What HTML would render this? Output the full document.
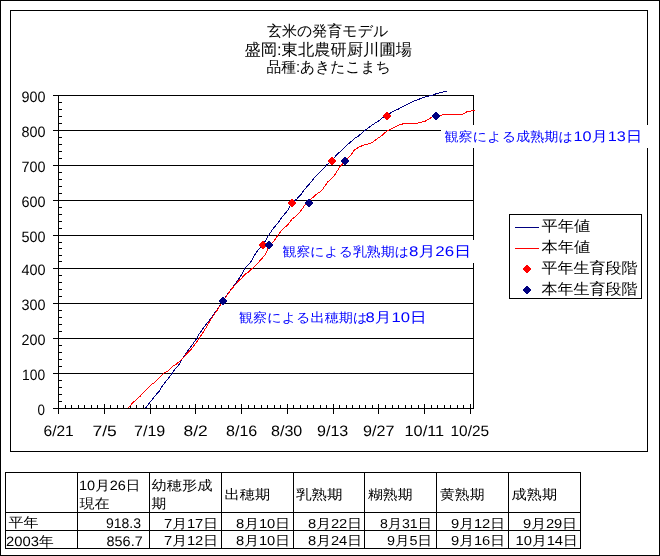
<!DOCTYPE html>
<html lang="ja"><head><meta charset="utf-8"><style>
html,body{margin:0;padding:0;background:#fff;}
body{width:660px;height:556px;overflow:hidden;position:relative;}
svg{position:absolute;left:0;top:0;will-change:transform;}
text{font-family:"Liberation Sans",sans-serif;text-rendering:geometricPrecision;}
</style></head><body>
<svg width="660" height="556" viewBox="0 0 660 556" shape-rendering="crispEdges">
<rect x="0.5" y="0.5" width="659" height="555" fill="none" stroke="#000"/>
<rect x="10.5" y="10.5" width="637" height="441" fill="none" stroke="#000"/>
<line x1="53" y1="95.5" x2="474" y2="95.5" stroke="#000"/>
<line x1="53" y1="130.5" x2="474" y2="130.5" stroke="#000"/>
<line x1="53" y1="165.5" x2="474" y2="165.5" stroke="#000"/>
<line x1="53" y1="200.5" x2="474" y2="200.5" stroke="#000"/>
<line x1="53" y1="235.5" x2="474" y2="235.5" stroke="#000"/>
<line x1="53" y1="268.5" x2="474" y2="268.5" stroke="#000"/>
<line x1="53" y1="303.5" x2="474" y2="303.5" stroke="#000"/>
<line x1="53" y1="338.5" x2="474" y2="338.5" stroke="#000"/>
<line x1="53" y1="373.5" x2="474" y2="373.5" stroke="#000"/>
<line x1="53" y1="408.5" x2="474" y2="408.5" stroke="#000"/>
<line x1="473.5" y1="95" x2="473.5" y2="409" stroke="#000"/>
<line x1="58.5" y1="95" x2="58.5" y2="414" stroke="#000"/>
<line x1="59" y1="102.5" x2="62" y2="102.5" stroke="#000"/>
<line x1="59" y1="109.5" x2="62" y2="109.5" stroke="#000"/>
<line x1="59" y1="116.5" x2="62" y2="116.5" stroke="#000"/>
<line x1="59" y1="123.5" x2="62" y2="123.5" stroke="#000"/>
<line x1="59" y1="137.5" x2="62" y2="137.5" stroke="#000"/>
<line x1="59" y1="144.5" x2="62" y2="144.5" stroke="#000"/>
<line x1="59" y1="151.5" x2="62" y2="151.5" stroke="#000"/>
<line x1="59" y1="158.5" x2="62" y2="158.5" stroke="#000"/>
<line x1="59" y1="172.5" x2="62" y2="172.5" stroke="#000"/>
<line x1="59" y1="179.5" x2="62" y2="179.5" stroke="#000"/>
<line x1="59" y1="186.5" x2="62" y2="186.5" stroke="#000"/>
<line x1="59" y1="193.5" x2="62" y2="193.5" stroke="#000"/>
<line x1="59" y1="207.5" x2="62" y2="207.5" stroke="#000"/>
<line x1="59" y1="214.5" x2="62" y2="214.5" stroke="#000"/>
<line x1="59" y1="221.5" x2="62" y2="221.5" stroke="#000"/>
<line x1="59" y1="228.5" x2="62" y2="228.5" stroke="#000"/>
<line x1="59" y1="242.5" x2="62" y2="242.5" stroke="#000"/>
<line x1="59" y1="248.5" x2="62" y2="248.5" stroke="#000"/>
<line x1="59" y1="255.5" x2="62" y2="255.5" stroke="#000"/>
<line x1="59" y1="261.5" x2="62" y2="261.5" stroke="#000"/>
<line x1="59" y1="275.5" x2="62" y2="275.5" stroke="#000"/>
<line x1="59" y1="282.5" x2="62" y2="282.5" stroke="#000"/>
<line x1="59" y1="289.5" x2="62" y2="289.5" stroke="#000"/>
<line x1="59" y1="296.5" x2="62" y2="296.5" stroke="#000"/>
<line x1="59" y1="310.5" x2="62" y2="310.5" stroke="#000"/>
<line x1="59" y1="317.5" x2="62" y2="317.5" stroke="#000"/>
<line x1="59" y1="324.5" x2="62" y2="324.5" stroke="#000"/>
<line x1="59" y1="331.5" x2="62" y2="331.5" stroke="#000"/>
<line x1="59" y1="345.5" x2="62" y2="345.5" stroke="#000"/>
<line x1="59" y1="352.5" x2="62" y2="352.5" stroke="#000"/>
<line x1="59" y1="359.5" x2="62" y2="359.5" stroke="#000"/>
<line x1="59" y1="366.5" x2="62" y2="366.5" stroke="#000"/>
<line x1="59" y1="380.5" x2="62" y2="380.5" stroke="#000"/>
<line x1="59" y1="387.5" x2="62" y2="387.5" stroke="#000"/>
<line x1="59" y1="394.5" x2="62" y2="394.5" stroke="#000"/>
<line x1="59" y1="401.5" x2="62" y2="401.5" stroke="#000"/>
<line x1="58.5" y1="404" x2="58.5" y2="414" stroke="#000"/>
<line x1="65.5" y1="405" x2="65.5" y2="408" stroke="#000"/>
<line x1="71.5" y1="405" x2="71.5" y2="408" stroke="#000"/>
<line x1="78.5" y1="405" x2="78.5" y2="408" stroke="#000"/>
<line x1="84.5" y1="405" x2="84.5" y2="408" stroke="#000"/>
<line x1="91.5" y1="405" x2="91.5" y2="408" stroke="#000"/>
<line x1="97.5" y1="405" x2="97.5" y2="408" stroke="#000"/>
<line x1="104.5" y1="404" x2="104.5" y2="414" stroke="#000"/>
<line x1="110.5" y1="405" x2="110.5" y2="408" stroke="#000"/>
<line x1="117.5" y1="405" x2="117.5" y2="408" stroke="#000"/>
<line x1="123.5" y1="405" x2="123.5" y2="408" stroke="#000"/>
<line x1="130.5" y1="405" x2="130.5" y2="408" stroke="#000"/>
<line x1="136.5" y1="405" x2="136.5" y2="408" stroke="#000"/>
<line x1="143.5" y1="405" x2="143.5" y2="408" stroke="#000"/>
<line x1="150.5" y1="404" x2="150.5" y2="414" stroke="#000"/>
<line x1="156.5" y1="405" x2="156.5" y2="408" stroke="#000"/>
<line x1="163.5" y1="405" x2="163.5" y2="408" stroke="#000"/>
<line x1="169.5" y1="405" x2="169.5" y2="408" stroke="#000"/>
<line x1="176.5" y1="405" x2="176.5" y2="408" stroke="#000"/>
<line x1="182.5" y1="405" x2="182.5" y2="408" stroke="#000"/>
<line x1="189.5" y1="405" x2="189.5" y2="408" stroke="#000"/>
<line x1="195.5" y1="404" x2="195.5" y2="414" stroke="#000"/>
<line x1="202.5" y1="405" x2="202.5" y2="408" stroke="#000"/>
<line x1="208.5" y1="405" x2="208.5" y2="408" stroke="#000"/>
<line x1="215.5" y1="405" x2="215.5" y2="408" stroke="#000"/>
<line x1="221.5" y1="405" x2="221.5" y2="408" stroke="#000"/>
<line x1="228.5" y1="405" x2="228.5" y2="408" stroke="#000"/>
<line x1="235.5" y1="405" x2="235.5" y2="408" stroke="#000"/>
<line x1="241.5" y1="404" x2="241.5" y2="414" stroke="#000"/>
<line x1="248.5" y1="405" x2="248.5" y2="408" stroke="#000"/>
<line x1="254.5" y1="405" x2="254.5" y2="408" stroke="#000"/>
<line x1="261.5" y1="405" x2="261.5" y2="408" stroke="#000"/>
<line x1="267.5" y1="405" x2="267.5" y2="408" stroke="#000"/>
<line x1="274.5" y1="405" x2="274.5" y2="408" stroke="#000"/>
<line x1="280.5" y1="405" x2="280.5" y2="408" stroke="#000"/>
<line x1="287.5" y1="404" x2="287.5" y2="414" stroke="#000"/>
<line x1="293.5" y1="405" x2="293.5" y2="408" stroke="#000"/>
<line x1="300.5" y1="405" x2="300.5" y2="408" stroke="#000"/>
<line x1="307.5" y1="405" x2="307.5" y2="408" stroke="#000"/>
<line x1="313.5" y1="405" x2="313.5" y2="408" stroke="#000"/>
<line x1="320.5" y1="405" x2="320.5" y2="408" stroke="#000"/>
<line x1="326.5" y1="405" x2="326.5" y2="408" stroke="#000"/>
<line x1="333.5" y1="404" x2="333.5" y2="414" stroke="#000"/>
<line x1="339.5" y1="405" x2="339.5" y2="408" stroke="#000"/>
<line x1="346.5" y1="405" x2="346.5" y2="408" stroke="#000"/>
<line x1="352.5" y1="405" x2="352.5" y2="408" stroke="#000"/>
<line x1="359.5" y1="405" x2="359.5" y2="408" stroke="#000"/>
<line x1="365.5" y1="405" x2="365.5" y2="408" stroke="#000"/>
<line x1="372.5" y1="405" x2="372.5" y2="408" stroke="#000"/>
<line x1="378.5" y1="404" x2="378.5" y2="414" stroke="#000"/>
<line x1="385.5" y1="405" x2="385.5" y2="408" stroke="#000"/>
<line x1="392.5" y1="405" x2="392.5" y2="408" stroke="#000"/>
<line x1="398.5" y1="405" x2="398.5" y2="408" stroke="#000"/>
<line x1="405.5" y1="405" x2="405.5" y2="408" stroke="#000"/>
<line x1="411.5" y1="405" x2="411.5" y2="408" stroke="#000"/>
<line x1="418.5" y1="405" x2="418.5" y2="408" stroke="#000"/>
<line x1="424.5" y1="404" x2="424.5" y2="414" stroke="#000"/>
<line x1="431.5" y1="405" x2="431.5" y2="408" stroke="#000"/>
<line x1="437.5" y1="405" x2="437.5" y2="408" stroke="#000"/>
<line x1="444.5" y1="405" x2="444.5" y2="408" stroke="#000"/>
<line x1="450.5" y1="405" x2="450.5" y2="408" stroke="#000"/>
<line x1="457.5" y1="405" x2="457.5" y2="408" stroke="#000"/>
<line x1="463.5" y1="405" x2="463.5" y2="408" stroke="#000"/>
<line x1="470.5" y1="404" x2="470.5" y2="414" stroke="#000"/>
<path d="M145.0,408.0 L145.8,407.7 L149.9,402.3 L156.2,394.6 L159.3,391.0 L162.5,385.6 L166.5,380.7 L169.7,376.6 L172.4,373.0 L173.7,370.8 L179.6,364.0 L182.2,359.0 L186.7,352.3 L193.0,343.7 L196.6,338.8 L199.3,333.8 L206.0,324.4 L211.9,317.2 L216.8,310.0 L223.0,301.0 L228.5,292.8 L232.1,288.3 L237.9,280.2 L242.0,273.9 L245.1,268.0 L251.0,261.7 L254.6,255.0 L258.6,249.5 L263.0,245.0 L268.5,235.5 L273.0,228.8 L278.4,222.5 L282.0,217.1 L287.4,210.8 L292.0,203.0 L296.3,199.5 L301.7,193.6 L304.4,189.6 L311.6,181.5 L314.7,177.4 L320.6,171.6 L326.9,164.8 L332.0,160.5 L336.8,154.5 L342.2,150.0 L347.6,144.6 L354.8,138.3 L357.5,136.9 L364.7,130.6 L371.9,125.2 L378.2,121.2 L383.6,116.9 L387.0,115.6 L392.6,111.5 L398.9,108.8 L402.5,106.6 L409.7,103.0 L416.0,100.3 L423.2,97.6 L430.0,95.8 L433.3,94.8 L437.5,93.3 L441.7,92.3 L447.0,91.2" fill="none" stroke="#000080" stroke-width="1"/>
<path d="M128.0,408.0 L133.0,402.6 L140.0,396.4 L144.5,391.5 L151.7,384.3 L154.4,382.9 L159.3,377.5 L163.8,373.0 L167.0,371.7 L172.8,366.3 L176.0,364.5 L181.0,360.0 L192.1,348.2 L198.4,339.7 L206.5,327.0 L209.5,321.5 L217.3,310.0 L223.0,301.0 L224.9,298.2 L231.2,289.6 L238.4,281.1 L241.1,278.8 L245.1,274.3 L248.3,272.1 L252.8,268.0 L259.1,261.7 L265.0,255.0 L267.6,249.5 L269.0,245.0 L273.0,242.3 L278.4,234.6 L282.0,229.7 L287.4,225.2 L291.9,219.3 L295.5,216.6 L300.9,210.8 L305.0,204.9 L309.0,203.0 L310.7,199.5 L316.1,194.5 L321.5,190.9 L324.6,186.4 L327.8,181.9 L334.1,176.1 L336.8,171.6 L340.0,166.6 L345.0,161.0 L351.2,155.0 L353.9,150.4 L359.3,146.8 L365.6,144.6 L371.9,142.8 L377.3,138.7 L381.8,135.6 L385.0,132.4 L389.9,129.5 L399.8,124.6 L406.1,123.2 L416.9,123.2 L425.0,121.3 L430.0,118.3 L432.5,116.7 L436.0,116.0 L440.0,115.8 L444.2,114.3 L462.5,114.3 L467.5,111.5 L474.6,110.4" fill="none" stroke="#ff0000" stroke-width="1"/>
<path d="M223.0,296.5 L227.5,301.0 L223.0,305.5 L218.5,301.0 Z" fill="#ff0000"/>
<path d="M263.0,240.5 L267.5,245.0 L263.0,249.5 L258.5,245.0 Z" fill="#ff0000"/>
<path d="M292.0,198.5 L296.5,203.0 L292.0,207.5 L287.5,203.0 Z" fill="#ff0000"/>
<path d="M332.0,156.5 L336.5,161.0 L332.0,165.5 L327.5,161.0 Z" fill="#ff0000"/>
<path d="M387.0,111.5 L391.5,116.0 L387.0,120.5 L382.5,116.0 Z" fill="#ff0000"/>
<path d="M223.0,296.5 L227.5,301.0 L223.0,305.5 L218.5,301.0 Z" fill="#000080"/>
<path d="M269.0,240.5 L273.5,245.0 L269.0,249.5 L264.5,245.0 Z" fill="#000080"/>
<path d="M309.0,198.5 L313.5,203.0 L309.0,207.5 L304.5,203.0 Z" fill="#000080"/>
<path d="M345.0,156.5 L349.5,161.0 L345.0,165.5 L340.5,161.0 Z" fill="#000080"/>
<path d="M436.0,111.5 L440.5,116.0 L436.0,120.5 L431.5,116.0 Z" fill="#000080"/>
<rect x="441" y="125" width="208" height="23" fill="#fff"/>
<rect x="279" y="240" width="196" height="23" fill="#fff"/>
<rect x="509.5" y="214.5" width="132" height="84" fill="#fff" stroke="#000"/>
<line x1="515" y1="227.5" x2="539" y2="227.5" stroke="#000080"/>
<line x1="515" y1="248.5" x2="539" y2="248.5" stroke="#ff0000"/>
<path d="M527.0,264.5 L531.5,269.0 L527.0,273.5 L522.5,269.0 Z" fill="#ff0000"/>
<path d="M527.0,285.5 L531.5,290.0 L527.0,294.5 L522.5,290.0 Z" fill="#000080"/>
<line x1="5.5" y1="472" x2="5.5" y2="549" stroke="#000"/>
<line x1="77.5" y1="472" x2="77.5" y2="549" stroke="#000"/>
<line x1="149.5" y1="472" x2="149.5" y2="549" stroke="#000"/>
<line x1="221.5" y1="472" x2="221.5" y2="549" stroke="#000"/>
<line x1="293.5" y1="472" x2="293.5" y2="549" stroke="#000"/>
<line x1="364.5" y1="472" x2="364.5" y2="549" stroke="#000"/>
<line x1="436.5" y1="472" x2="436.5" y2="549" stroke="#000"/>
<line x1="508.5" y1="472" x2="508.5" y2="549" stroke="#000"/>
<line x1="580.5" y1="472" x2="580.5" y2="549" stroke="#000"/>
<line x1="5" y1="472.5" x2="581" y2="472.5" stroke="#000"/>
<line x1="5" y1="512.5" x2="581" y2="512.5" stroke="#000"/>
<line x1="5" y1="530.5" x2="581" y2="530.5" stroke="#000"/>
<line x1="5" y1="548.5" x2="581" y2="548.5" stroke="#000"/>
<text transform="translate(267.00,35.50) scale(1.0000,1)" font-size="15.00" fill="#000">玄米の発育モデル</text>
<text transform="translate(244.50,55.00) scale(1.0184,1)" font-size="16.00" fill="#000">盛岡:東北農研厨川圃場</text>
<text transform="translate(266.50,71.50) scale(0.9839,1)" font-size="15.00" fill="#000">品種:あきたこまち</text>
<text transform="translate(21.50,102.00) scale(0.9583,1)" font-size="15.00" fill="#000">900</text>
<text transform="translate(21.50,137.00) scale(0.9583,1)" font-size="15.00" fill="#000">800</text>
<text transform="translate(21.50,172.00) scale(0.9583,1)" font-size="15.00" fill="#000">700</text>
<text transform="translate(21.50,207.00) scale(0.9583,1)" font-size="15.00" fill="#000">600</text>
<text transform="translate(21.50,242.00) scale(0.9583,1)" font-size="15.00" fill="#000">500</text>
<text transform="translate(21.50,275.00) scale(0.9618,1)" font-size="15.00" fill="#000">400</text>
<text transform="translate(21.50,310.00) scale(0.9583,1)" font-size="15.00" fill="#000">300</text>
<text transform="translate(21.50,345.00) scale(0.9583,1)" font-size="15.00" fill="#000">200</text>
<text transform="translate(22.00,380.00) scale(0.9224,1)" font-size="15.00" fill="#000">100</text>
<text transform="translate(37.50,415.00) scale(0.8932,1)" font-size="15.00" fill="#000">0</text>
<text transform="translate(43.50,436.00) scale(1.0357,1)" font-size="15.00" fill="#000">6/21</text>
<text transform="translate(92.50,436.00) scale(1.1601,1)" font-size="15.00" fill="#000">7/5</text>
<text transform="translate(134.00,436.00) scale(1.0714,1)" font-size="15.00" fill="#000">7/19</text>
<text transform="translate(183.50,436.00) scale(1.1601,1)" font-size="15.00" fill="#000">8/2</text>
<text transform="translate(226.00,436.00) scale(1.0714,1)" font-size="15.00" fill="#000">8/16</text>
<text transform="translate(271.00,436.00) scale(1.0714,1)" font-size="15.00" fill="#000">8/30</text>
<text transform="translate(317.00,436.00) scale(1.0714,1)" font-size="15.00" fill="#000">9/13</text>
<text transform="translate(363.00,436.00) scale(1.0753,1)" font-size="15.00" fill="#000">9/27</text>
<text transform="translate(404.50,436.00) scale(1.0880,1)" font-size="15.00" fill="#000">10/11</text>
<text transform="translate(450.50,436.00) scale(1.0278,1)" font-size="15.00" fill="#000">10/25</text>
<text transform="translate(444.50,140.50) scale(1.0864,1)" font-size="13.00" fill="#0000ff">観察による成熟期は</text>
<text transform="translate(573.50,141.00) scale(1.1607,1)" font-size="14.00" fill="#0000ff">10月13日</text>
<text transform="translate(282.50,255.50) scale(1.0692,1)" font-size="13.00" fill="#0000ff">観察による乳熟期は</text>
<text transform="translate(409.00,256.00) scale(1.2083,1)" font-size="14.00" fill="#0000ff">8月26日</text>
<text transform="translate(239.00,321.50) scale(1.0857,1)" font-size="13.00" fill="#0000ff">観察による出穂期は</text>
<text transform="translate(365.50,322.00) scale(1.1886,1)" font-size="14.00" fill="#0000ff">8月10日</text>
<text transform="translate(541.50,230.50) scale(1.0909,1)" font-size="14.93" fill="#000">平年値</text>
<text transform="translate(541.50,251.50) scale(1.0909,1)" font-size="14.93" fill="#000">本年値</text>
<text transform="translate(541.50,272.50) scale(1.0674,1)" font-size="15.00" fill="#000">平年生育段階</text>
<text transform="translate(541.50,293.50) scale(1.0674,1)" font-size="15.00" fill="#000">本年生育段階</text>
<text transform="translate(79.00,489.50) scale(1.0741,1)" font-size="13.50" fill="#000">10月26日</text>
<text transform="translate(79.50,507.50) scale(1.1154,1)" font-size="13.50" fill="#000">現在</text>
<text transform="translate(151.50,489.50) scale(1.1299,1)" font-size="13.50" fill="#000">幼穂形成</text>
<text transform="translate(151.50,507.50) scale(1.0936,1)" font-size="13.50" fill="#000">期</text>
<text transform="translate(224.50,499.00) scale(1.1282,1)" font-size="13.50" fill="#000">出穂期</text>
<text transform="translate(296.00,499.00) scale(1.1506,1)" font-size="13.50" fill="#000">乳熟期</text>
<text transform="translate(368.00,499.00) scale(1.1000,1)" font-size="13.50" fill="#000">糊熟期</text>
<text transform="translate(440.00,498.50) scale(1.1000,1)" font-size="13.50" fill="#000">黄熟期</text>
<text transform="translate(511.50,499.00) scale(1.1256,1)" font-size="13.50" fill="#000">成熟期</text>
<text transform="translate(8.50,526.50) scale(1.1154,1)" font-size="13.50" fill="#000">平年</text>
<text transform="translate(6.00,545.50) scale(1.0952,1)" font-size="13.50" fill="#000">2003年</text>
<text transform="translate(106.00,528.00) scale(1.0000,1)" font-size="14.00" fill="#000">918.3</text>
<text transform="translate(106.50,546.00) scale(1.0330,1)" font-size="14.00" fill="#000">856.7</text>
<text transform="translate(164.00,527.50) scale(1.1333,1)" font-size="13.00" fill="#000">7月17日</text>
<text transform="translate(236.00,527.50) scale(1.1309,1)" font-size="13.00" fill="#000">8月10日</text>
<text transform="translate(308.00,527.50) scale(1.1309,1)" font-size="13.00" fill="#000">8月22日</text>
<text transform="translate(380.00,527.50) scale(1.0870,1)" font-size="13.00" fill="#000">8月31日</text>
<text transform="translate(451.00,527.50) scale(1.1333,1)" font-size="13.00" fill="#000">9月12日</text>
<text transform="translate(523.00,527.50) scale(1.1333,1)" font-size="13.00" fill="#000">9月29日</text>
<text transform="translate(164.00,545.00) scale(1.1333,1)" font-size="13.00" fill="#000">7月12日</text>
<text transform="translate(236.00,545.00) scale(1.1309,1)" font-size="13.00" fill="#000">8月10日</text>
<text transform="translate(308.00,545.00) scale(1.1309,1)" font-size="13.00" fill="#000">8月24日</text>
<text transform="translate(387.00,545.00) scale(1.1087,1)" font-size="13.00" fill="#000">9月5日</text>
<text transform="translate(451.00,545.00) scale(1.1333,1)" font-size="13.00" fill="#000">9月16日</text>
<text transform="translate(515.50,545.00) scale(1.1346,1)" font-size="13.00" fill="#000">10月14日</text>
</svg>
</body></html>
